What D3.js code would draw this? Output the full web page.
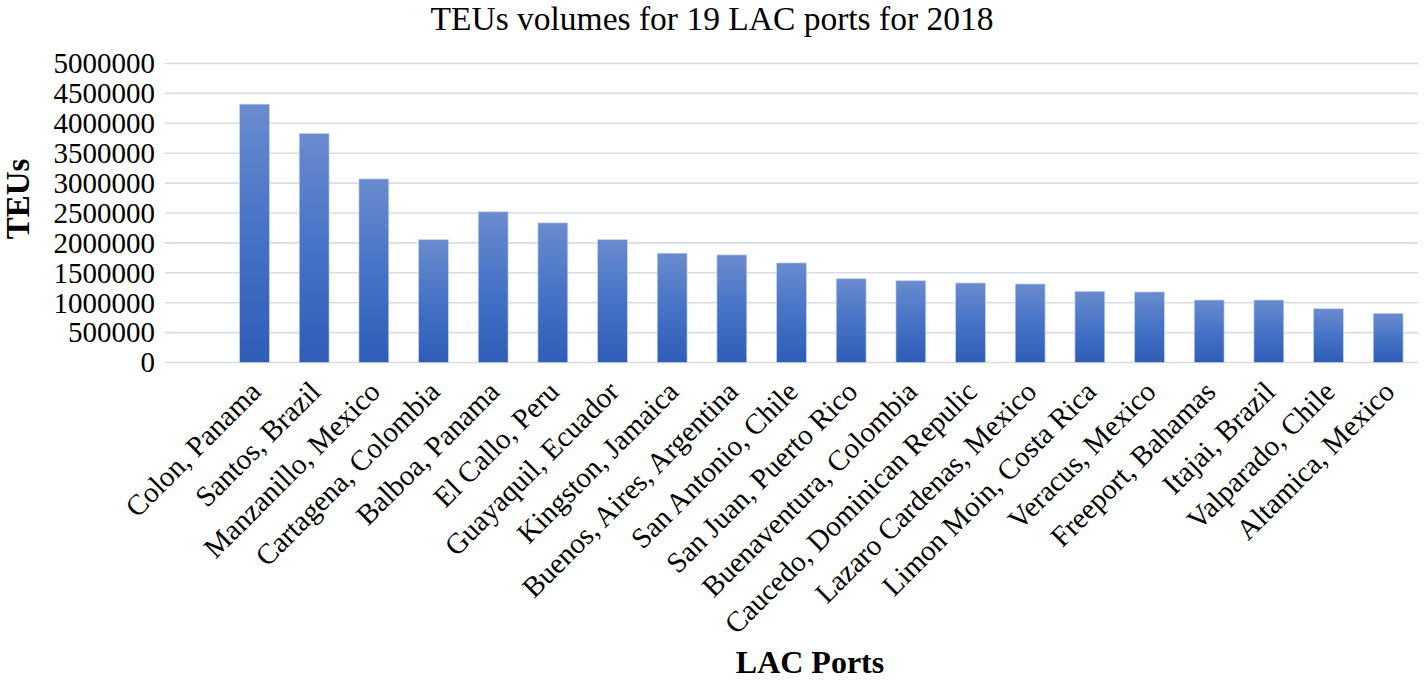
<!DOCTYPE html>
<html>
<head>
<meta charset="utf-8">
<script src="https://cdn.jsdelivr.net/npm/d3@7"></script>
<style>
  html, body { margin: 0; padding: 0; background: #fff; }
  svg { display: block; }
  text { font-family: "Liberation Serif", "Times New Roman", serif; fill: #000; }
</style>
</head>
<body>
<svg id="chart" width="1424" height="680"></svg>
<script>
const title = "TEUs volumes for 19 LAC ports for 2018";
const yTitle = "TEUs";
const xTitle = "LAC Ports";
const ports = [
  "Colon, Panama", "Santos, Brazil", "Manzanillo, Mexico", "Cartagena, Colombia",
  "Balboa, Panama", "El Callo, Peru", "Guayaquil, Ecuador", "Kingston, Jamaica",
  "Buenos, Aires, Argentina", "San Antonio, Chile", "San Juan, Puerto Rico",
  "Buenaventura, Colombia", "Caucedo, Dominican Repulic", "Lazaro Cardenas, Mexico",
  "Limon Moin, Costa Rica", "Veracus, Mexico", "Freeport, Bahamas", "Itajai, Brazil",
  "Valparado, Chile", "Altamica, Mexico"
];
const teus = [
  4320000, 3830000, 3070000, 2055000, 2520000, 2335000, 2055000, 1828000,
  1800000, 1665000, 1402000, 1368000, 1330000, 1313000, 1190000, 1180000,
  1045000, 1045000, 900000, 823000
];
const yTicks = [0, 500000, 1000000, 1500000, 2000000, 2500000, 3000000, 3500000, 4000000, 4500000, 5000000];

const svg = d3.select("#chart");
const plotLeft = 165, plotRight = 1418, plotTop = 63.5, plotBottom = 362.5;

// Category axis has one leading empty slot before the first port
const slots = [""].concat(ports);
const x = d3.scaleBand().domain(slots).range([plotLeft, plotRight]).paddingInner(0.5).paddingOuter(0.25);
const y = d3.scaleLinear().domain([0, 5000000]).range([plotBottom, plotTop]);

const defs = svg.append("defs");
const grad = defs.append("linearGradient").attr("id", "barGrad")
  .attr("x1", 0).attr("y1", 0).attr("x2", 0).attr("y2", 1);
grad.append("stop").attr("offset", "0%").attr("stop-color", "#6A8BCE");
grad.append("stop").attr("offset", "50%").attr("stop-color", "#4673C6");
grad.append("stop").attr("offset", "100%").attr("stop-color", "#2F5DB7");

// gridlines
svg.append("g").selectAll("line").data(yTicks).join("line")
  .attr("x1", plotLeft).attr("x2", plotRight)
  .attr("y1", d => y(d)).attr("y2", d => y(d))
  .attr("stroke", "#d9dce4").attr("stroke-width", 1.6);

// y tick labels
svg.append("g").selectAll("text").data(yTicks).join("text")
  .attr("x", 155).attr("y", d => y(d))
  .attr("dy", "0.34em")
  .attr("text-anchor", "end")
  .style("font-size", "29px")
  .text(d => d3.format("d")(d));

// bars
svg.append("g").selectAll("rect").data(ports).join("rect")
  .attr("x", d => x(d))
  .attr("width", x.bandwidth())
  .attr("y", (d, i) => y(teus[i]))
  .attr("height", (d, i) => y(0) - y(teus[i]))
  .attr("fill", "url(#barGrad)")
  .attr("stroke", "rgba(200,215,240,0.8)")
  .attr("stroke-width", 0.8);

// x labels
svg.append("g").selectAll("text").data(ports).join("text")
  .attr("transform", d => `translate(${x(d) + x.bandwidth() / 2 + 8},${plotBottom + 31}) rotate(-45)`)
  .attr("text-anchor", "end")
  .style("font-size", "29px")
  .text(d => d);

// title
svg.append("text").attr("x", 712).attr("y", 30)
  .attr("text-anchor", "middle")
  .style("font-size", "33.5px")
  .text(title);

// y title
svg.append("text")
  .attr("transform", `translate(29,199) rotate(-90)`)
  .attr("text-anchor", "middle")
  .style("font-size", "33px").style("font-weight", "bold")
  .text(yTitle);

// x title
svg.append("text").attr("x", 810).attr("y", 673)
  .attr("text-anchor", "middle")
  .style("font-size", "32px").style("font-weight", "bold")
  .text(xTitle);
</script>
</body>
</html>
